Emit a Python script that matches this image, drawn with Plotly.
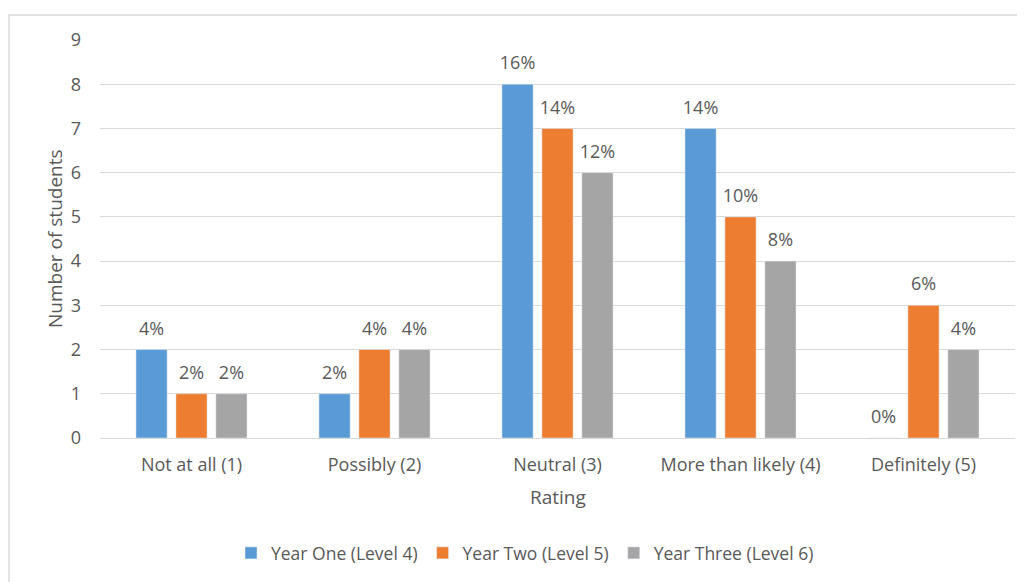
import plotly.graph_objects as go

categories = ["Not at all (1)", "Possibly (2)", "Neutral (3)", "More than likely (4)", "Definitely (5)"]
series_names = ["Year One (Level 4)", "Year Two (Level 5)", "Year Three (Level 6)"]
year_one = [2, 1, 8, 7, 0]
year_two = [1, 2, 7, 5, 3]
year_three = [1, 2, 6, 4, 2]
labels_one = ["4%", "2%", "16%", "14%", "0%"]
labels_two = ["2%", "4%", "14%", "10%", "6%"]
labels_three = ["2%", "4%", "12%", "8%", "4%"]
colors = ["#5B9BD5", "#ED7D31", "#A5A5A5"]
y_ticks = list(range(0, 10))

FONT = "Open Sans"
TXT = "#595959"

# page has an 8px body offset; figure coordinates are screen minus 8
L, T, R, B = 92, 32, 1007, 430
W, H = 1017, 574
PW, PH = R - L, B - T
GAP = 0.345

fig = go.Figure()
for i, (name, vals, col) in enumerate(zip(series_names, [year_one, year_two, year_three], colors)):
    fig.add_trace(go.Bar(
        x=categories, y=vals, name=name, marker_color=col,
        offsetgroup=str(i), hoverinfo="x+y+name",
    ))
for i, (vals, labs) in enumerate(zip([year_one, year_two, year_three],
                                     [labels_one, labels_two, labels_three])):
    fig.add_trace(go.Scatter(
        x=categories, y=vals, text=labs, mode="markers+text",
        textposition="top center", offsetgroup=str(i), showlegend=False,
        marker=dict(size=15, opacity=0), cliponaxis=False, hoverinfo="skip",
        textfont=dict(family=FONT, size=18, color=TXT),
    ))

fig.update_layout(
    width=W, height=H,
    margin=dict(l=L, r=W - R, t=T, b=H - B),
    paper_bgcolor="white", plot_bgcolor="white",
    barmode="group", bargap=GAP, bargroupgap=0.22,
    scattermode="group", scattergap=GAP,
    font=dict(family=FONT, size=18, color=TXT),
    showlegend=True,
    legend=dict(orientation="h", x=(517 - L) / PW, xanchor="center",
                y=(B - 545) / PH, yanchor="middle",
                font=dict(family=FONT, size=17.5, color=TXT), itemwidth=30,
                traceorder="normal"),
)
fig.update_yaxes(range=[0, 9], tickvals=y_ticks, showgrid=True, gridcolor="#D9D9D9",
                 gridwidth=1, zeroline=False, showline=False, ticks="",
                 ticklabelstandoff=18, tickfont=dict(family=FONT, size=18, color=TXT))
fig.update_xaxes(showgrid=False, showline=True, linecolor="#D9D9D9", linewidth=1,
                 ticks="", tickfont=dict(family=FONT, size=18, color=TXT),
                 ticklabelstandoff=10)

fig.add_annotation(text="Rating", xref="paper", yref="paper", x=0.5, y=(B - 489) / PH,
                   showarrow=False, yanchor="middle", xanchor="center",
                   font=dict(family=FONT, size=19, color=TXT))
fig.add_annotation(text="Number of students", xref="paper", yref="paper",
                   x=(47 - L) / PW, y=0.5, textangle=-90, showarrow=False,
                   xanchor="center", yanchor="middle",
                   font=dict(family=FONT, size=19, color=TXT))
fig.add_shape(type="rect", xref="paper", yref="paper",
              x0=(1 - L) / PW, x1=(1030 - L) / PW,
              y0=(B - 590) / PH, y1=(B - 7) / PH,
              line=dict(color="#D9D9D9", width=1.5), fillcolor="rgba(0,0,0,0)", layer="below")

fig.write_html("out.html")
